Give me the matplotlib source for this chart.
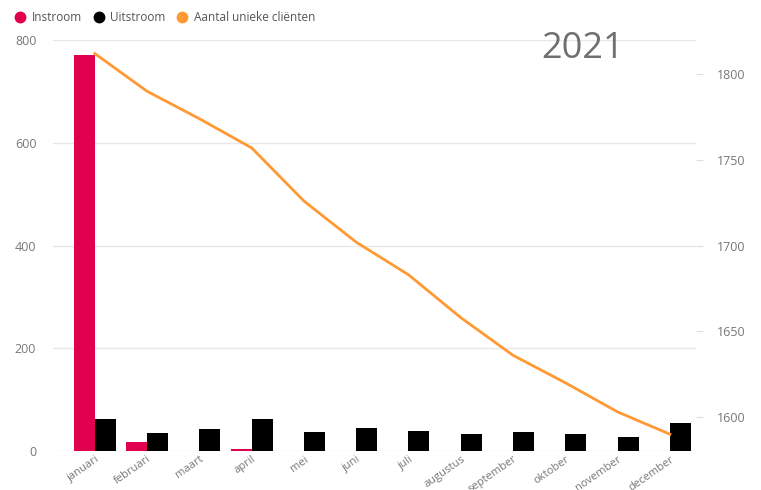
import matplotlib.pyplot as plt
from matplotlib.lines import Line2D
import numpy as np

plt.rcParams['font.family'] = ['Open Sans', 'DejaVu Sans']

months = ['januari', 'februari', 'maart', 'april', 'mei', 'juni', 'juli',
          'augustus', 'september', 'oktober', 'november', 'december']
instroom = [772, 17, 0, 3, 0, 0, 0, 0, 0, 0, 0, 0]
uitstroom = [62, 35, 43, 62, 37, 45, 39, 33, 37, 33, 27, 54]
unieke_clienten = [1812, 1790, 1774, 1757, 1726, 1702, 1683, 1658, 1636, 1620, 1603, 1590]

red = '#E0004D'
orange = '#FF9933'
grey = '#777777'

fig = plt.figure(figsize=(7.61, 4.9), dpi=100)
ax = fig.add_axes([0.0696, 0.0796, 0.845, 0.8384])
x = np.arange(len(months))
w = 0.4
ax.bar(x - w / 2, instroom, w, color=red, zorder=2)
ax.bar(x + w / 2, uitstroom, w, color='black', zorder=2)
ax.set_xlim(-0.8, 11.5)
ax.set_ylim(0, 800)
ax.set_yticks([0, 200, 400, 600, 800])
ax.yaxis.grid(True, color='#e8e8e8', linewidth=1, zorder=0)
ax.set_axisbelow(True)
for s in ax.spines.values():
    s.set_visible(False)
ax.tick_params(axis='y', length=0, labelcolor=grey, labelsize=9, pad=12)
ax.tick_params(axis='x', length=0, labelcolor=grey, labelsize=8, pad=2)
ax.set_xticks(x)
ax.set_xticklabels(months, rotation=35, ha='right', rotation_mode='anchor')

ax2 = ax.twinx()
ax2.plot(x, unieke_clienten, color=orange, linewidth=2, zorder=3)
ax2.set_ylim(1580.2, 1819.8)
ax2.set_yticks([1600, 1650, 1700, 1750, 1800])
for s in ax2.spines.values():
    s.set_visible(False)
ax2.tick_params(axis='y', length=5, color='#dddddd', labelcolor=grey, labelsize=9, pad=10)

fig.text(0.766, 0.9, '2021', fontsize=26, color='#707070', ha='center', va='center')

handles = [Line2D([], [], marker='o', linestyle='', color=c, markersize=7.5)
           for c in [red, 'black', orange]]
fig.legend(handles, ['Instroom', 'Uitstroom', 'Aantal unieke cliënten'],
           loc='upper left', bbox_to_anchor=(0.0, 0.995), ncol=3, frameon=False,
           fontsize=8.5, labelcolor='#555555', handletextpad=0.0, columnspacing=0.4,
           borderaxespad=0.3)

fig.savefig('out.png', dpi=100)
